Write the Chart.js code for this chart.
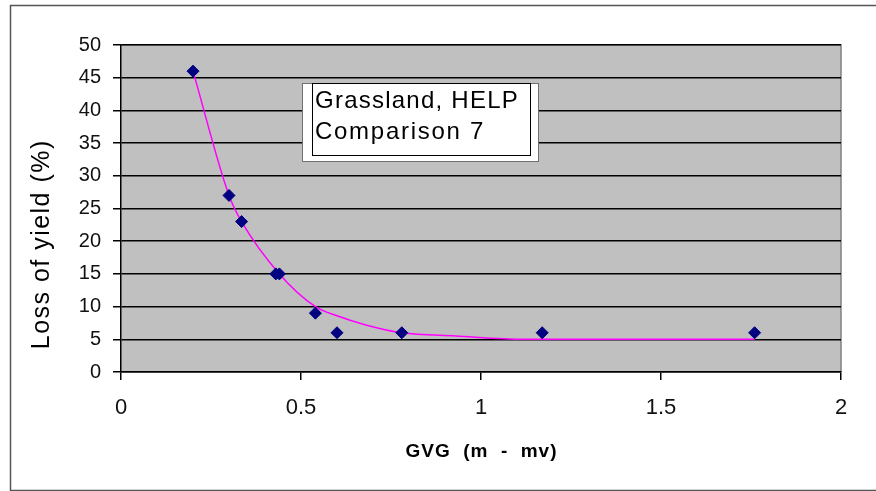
<!DOCTYPE html>
<html>
<head>
<meta charset="utf-8">
<script src="https://cdn.jsdelivr.net/npm/chart.js@4/dist/chart.umd.min.js"></script>
<style>
  html, body { margin: 0; padding: 0; background: #fff; }
  #wrap { width: 876px; height: 491px; position: relative; }
</style>
</head>
<body>
<div id="wrap"><canvas id="chartYield"></canvas></div>
<script>
(function () {
  // measured points: GVG (m - mv) vs loss of yield (%)
  const gvg = [0.2, 0.3, 0.335, 0.43, 0.44, 0.54, 0.6, 0.78, 1.17, 1.76];
  const loss = [46, 27, 23, 15, 15, 9, 6, 6, 6, 6];

  // smoothed trend line
  const trendX = [0.2, 0.3, 0.335, 0.44, 0.54, 0.6, 0.68, 0.78, 0.93, 1.12, 1.76];
  const trendY = [46, 27, 23, 15, 10, 8.6, 7.2, 6, 5.5, 5, 5];

  const yTicks = [0, 5, 10, 15, 20, 25, 30, 35, 40, 45, 50];
  const xTicks = [0, 0.5, 1, 1.5, 2];
  const boxLines = ['Grassland, HELP', 'Comparison 7'];

  const font = "'Liberation Sans', Arial, sans-serif";

  function zip(xs, ys) {
    return xs.map(function (x, i) { return { x: x, y: ys[i] }; });
  }

  // the source chart's text runs wider than Arial, so stretch with letter spacing
  function fitText(ctx, text, x, y, width) {
    ctx.letterSpacing = '0px';
    const w = ctx.measureText(text).width;
    const sp = Math.max(0, (width - w) / text.length);
    ctx.letterSpacing = sp.toFixed(2) + 'px';
    if (ctx.textAlign === 'center') x += sp / 2;
    ctx.fillText(text, x, y);
    ctx.letterSpacing = '0px';
  }

  const frame = {
    id: 'frame',
    beforeDraw: function (chart) {
      const ctx = chart.ctx;
      const a = chart.chartArea;
      ctx.save();
      ctx.fillStyle = '#c0c0c0';
      ctx.fillRect(a.left, a.top, a.right - a.left, a.bottom - a.top);
      ctx.strokeStyle = '#808080';
      ctx.lineWidth = 1.5;
      ctx.beginPath();
      ctx.moveTo(a.left, a.top);
      ctx.lineTo(a.right, a.top);
      ctx.lineTo(a.right, a.bottom);
      ctx.stroke();
      // outer chart border
      ctx.strokeStyle = '#555';
      ctx.lineWidth = 1.5;
      ctx.strokeRect(10.5, 5.5, 900, 485);
      ctx.restore();
    },
    afterDraw: function (chart) {
      const ctx = chart.ctx;
      ctx.save();
      // text box
      ctx.fillStyle = '#fff';
      ctx.fillRect(302, 83, 236, 78);
      ctx.strokeStyle = '#707070';
      ctx.lineWidth = 1;
      ctx.strokeRect(302.5, 83.5, 236, 78);
      ctx.strokeStyle = '#000';
      ctx.strokeRect(312.5, 83.5, 218, 72);
      ctx.fillStyle = '#000';
      ctx.font = '24px ' + font;
      ctx.textBaseline = 'alphabetic';
      ctx.textAlign = 'left';
      fitText(ctx, boxLines[0], 315, 108, 204);
      fitText(ctx, boxLines[1], 315, 139, 170);

      // axis titles
      ctx.font = '25px ' + font;
      ctx.textAlign = 'center';
      ctx.textBaseline = 'middle';
      ctx.save();
      ctx.translate(42, 245);
      ctx.rotate(-Math.PI / 2);
      fitText(ctx, 'Loss of yield (%)', 0, 0, 210);
      ctx.restore();

      ctx.font = 'bold 19px ' + font;
      fitText(ctx, 'GVG  (m  -  mv)', 481, 452, 152);
      ctx.restore();
    },
  };

  new Chart(document.getElementById('chartYield'), {
    type: 'scatter',
    data: {
      datasets: [
        {
          label: 'Trend',
          type: 'line',
          data: zip(trendX, trendY),
          borderColor: '#ff00ff',
          borderWidth: 1.5,
          pointRadius: 0,
          cubicInterpolationMode: 'monotone',
          fill: false,
          order: 2,
        },
        {
          label: 'Measured',
          data: zip(gvg, loss),
          pointStyle: 'rectRot',
          pointRadius: 6,
          backgroundColor: '#000080',
          borderColor: '#000080',
          order: 1,
        },
      ],
    },
    options: {
      responsive: true,
      maintainAspectRatio: false,
      animation: false,
      devicePixelRatio: 1,
      layout: { padding: { left: 10, top: 45, right: 35, bottom: 5 } },
      plugins: { legend: { display: false }, tooltip: { enabled: false } },
      scales: {
        x: {
          type: 'linear',
          min: 0,
          max: 2,
          afterBuildTicks: function (axis) { axis.ticks = xTicks.map(function (v) { return { value: v }; }); },
          afterFit: function (axis) { axis.height = 114; },
          ticks: {
            color: '#111',
            font: { family: font, size: 22 },
            padding: 15,
            maxRotation: 0,
            callback: function (v) { return String(v); },
          },
          grid: { drawOnChartArea: false, drawTicks: true, tickLength: 8, color: '#000', lineWidth: 1.5 },
          border: { color: '#000', width: 1.5 },
        },
        y: {
          min: 0,
          max: 50,
          afterBuildTicks: function (axis) { axis.ticks = yTicks.map(function (v) { return { value: v }; }); },
          afterFit: function (axis) { axis.width = 111; },
          ticks: { color: '#111', font: { family: font, size: 20 }, padding: 12 },
          grid: { color: '#000', lineWidth: 1.5, tickLength: 8 },
          border: { color: '#000', width: 1.5 },
        },
      },
    },
    plugins: [frame],
  });
})();
</script>
</body>
</html>
